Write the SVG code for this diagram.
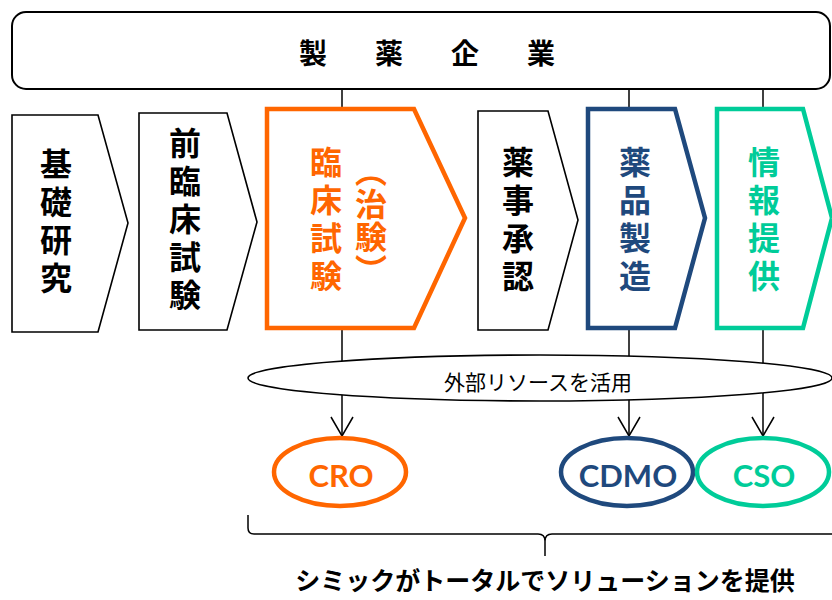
<svg xmlns="http://www.w3.org/2000/svg" width="832" height="600" viewBox="0 0 832 600">
<defs>
<style>
.blk{fill:#fff;stroke:#000;stroke-width:1.6;stroke-linejoin:miter}
.org{fill:#fff;stroke:#FF6600;stroke-width:4.5}
.nav{fill:#fff;stroke:#1F497D;stroke-width:4.5}
.grn{fill:#fff;stroke:#00CC99;stroke-width:4.5}
.lbl{font-family:"Noto Sans CJK JP","Noto Sans CJK SC",sans-serif;font-weight:bold;font-size:32px;writing-mode:vertical-rl;text-anchor:middle;letter-spacing:6px}
.ab{font-family:Lato,"Liberation Sans",sans-serif;font-weight:bold;font-size:31px;text-anchor:middle}
.conn{stroke:#000;stroke-width:1.5;fill:none}
</style>
<marker id="arr" markerUnits="userSpaceOnUse" viewBox="-20 -12 22 24" markerWidth="22" markerHeight="24" refX="0" refY="0" orient="auto" overflow="visible">
<path d="M-19,-11 L0,0 L-19,11" fill="none" stroke="#000" stroke-width="1.5"/>
</marker>
</defs>
<rect width="832" height="600" fill="#fff"/>

<g id="connectors">
<line class="conn" x1="342" y1="89" x2="342" y2="110"/>
<line class="conn" x1="629" y1="89" x2="629" y2="110"/>
<line class="conn" x1="763" y1="89" x2="763" y2="110"/>
<line class="conn" x1="342" y1="328" x2="342" y2="436" marker-end="url(#arr)"/>
<line class="conn" x1="629" y1="328" x2="629" y2="436" marker-end="url(#arr)"/>
<line class="conn" x1="763" y1="328" x2="763" y2="436" marker-end="url(#arr)"/>
<path class="conn" d="M248,515 L248,528 Q248,534 254,534 L538,534 Q545,534 545,541 L545,556 M545,541 Q545,534 552,534 L840,534"/>
</g>

<g id="pharma">
<rect x="12" y="12" width="818" height="77" rx="14" fill="#fff" stroke="#000" stroke-width="2"/>
<text x="432" y="64" font-family="'Noto Sans CJK JP',sans-serif" font-weight="bold" font-size="28" letter-spacing="10" text-anchor="middle">製　薬　企　業</text>
</g>

<g id="basic">
<polygon class="blk" points="12,115 98,115 128,223 98,332 12,332"/>
<text class="lbl" x="56" y="224">基礎研究</text>
</g>

<g id="preclinical">
<polygon class="blk" points="139,113 227,113 257,222 227,330 139,330"/>
<text class="lbl" x="185" y="222">前臨床試験</text>
</g>

<g id="clinical">
<polygon class="org" points="267,109 414,109 465,218 414,328 267,328"/>
<text class="lbl" x="326" y="222" fill="#FF6600">臨床試験</text>
<text class="lbl" x="371" y="221" fill="#FF6600" style="letter-spacing:1px">（治験）</text>
</g>

<g id="approval">
<polygon class="blk" points="478,111 548,111 578,220 548,330 478,330"/>
<text class="lbl" x="518" y="222">薬事承認</text>
</g>

<g id="manufacturing">
<polygon class="nav" points="588,109 675,109 705,218 675,328 588,328"/>
<text class="lbl" x="635" y="222" fill="#1F497D">薬品製造</text>
</g>

<g id="info">
<polygon class="grn" points="717,109 803,109 832,218 803,328 717,328"/>
<text class="lbl" x="764" y="222" fill="#00CC99">情報提供</text>
</g>

<g id="external">
<ellipse cx="540" cy="378" rx="292" ry="23" fill="#fff" stroke="#000" stroke-width="1.6"/>
<text x="538" y="390" font-family="'Noto Sans CJK JP',sans-serif" font-size="21" text-anchor="middle">外部リソースを活用</text>
</g>

<g id="cro">
<ellipse cx="340" cy="472" rx="66" ry="34" class="org"/>
<text class="ab" x="341" y="487" fill="#FF6600">CRO</text>
</g>

<g id="cdmo">
<ellipse cx="627" cy="472" rx="66" ry="34" class="nav"/>
<text class="ab" x="628" y="487" fill="#1F497D">CDMO</text>
</g>

<g id="cso">
<ellipse cx="763" cy="472" rx="66" ry="34" class="grn"/>
<text class="ab" x="764" y="487" fill="#00CC99">CSO</text>
</g>

<g id="summary">
<text x="545" y="590" font-family="'Noto Sans CJK JP',sans-serif" font-weight="bold" font-size="25" text-anchor="middle">シミックがトータルでソリューションを提供</text>
</g>
</svg>
